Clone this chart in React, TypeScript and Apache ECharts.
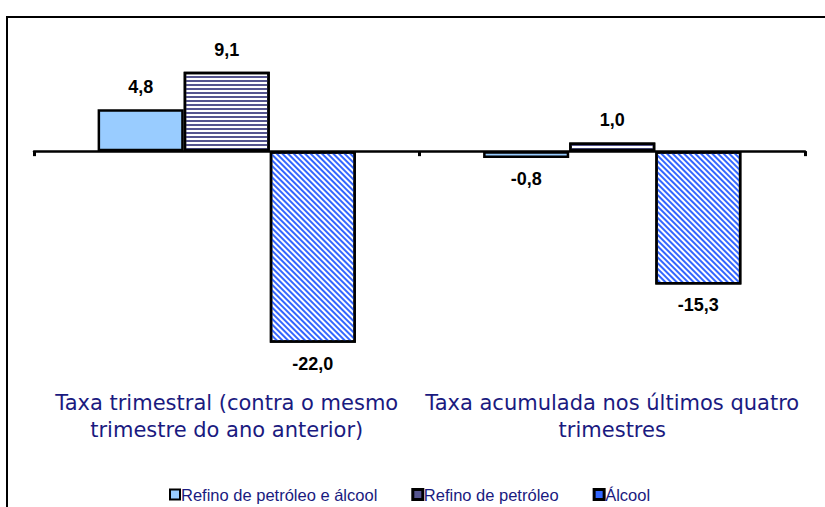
import React, { useEffect, useRef } from "react";
import * as echarts from "echarts";

const categories = [
  "Taxa trimestral (contra o mesmo\ntrimestre do ano anterior)",
  "Taxa acumulada nos últimos quatro\ntrimestres",
];
const seriesNames = ["Refino de petróleo e álcool", "Refino de petróleo", "Álcool"];
const refinoAlcool = [4.8, -0.8];
const refinoPetroleo = [9.1, 1.0];
const alcool = [-22.0, -15.3];

const fmt = (v: number) => v.toFixed(1).replace(".", ",");

export default function App() {
  const ref = useRef<HTMLDivElement>(null);
  useEffect(() => {
    if (!ref.current) return;
    const chart = echarts.init(ref.current, null, { renderer: "svg" });
    const mkData = (arr: number[]) =>
      arr.map((v) => ({
        value: v,
        label: { position: v < 0 ? "bottom" : "top", distance: v < 0 ? 12 : 13 },
      }));
    const label = {
      show: true,
      formatter: (p: any) => fmt(p.value),
      fontFamily: "Liberation Sans, Arial, sans-serif",
      fontWeight: "bold",
      fontSize: 18,
      color: "#000",
    };
    const legendText = "#1a1a80";
    chart.setOption({
      animation: false,
      backgroundColor: "#fff",
      graphic: [
        {
          type: "rect",
          shape: { x: 7, y: 17, width: 900, height: 600 },
          style: { fill: "none", stroke: "#000", lineWidth: 2 },
          silent: true,
        },
      ],
      grid: { left: 34, right: 20, top: 64, height: 305 },
      legend: {
        top: 481,
        left: 164,
        itemWidth: 10,
        itemHeight: 10,
        itemGap: 34,
        icon: "rect",
        textStyle: {
          color: legendText,
          fontFamily: "Liberation Sans, Arial, sans-serif",
          fontSize: 16.5,
          padding: [0, 0, 0, -4],
        },
        data: [
          { name: seriesNames[0], itemStyle: { color: "#99ccff", borderColor: "#000", borderWidth: 2, decal: "none" } },
          { name: seriesNames[1], itemStyle: { color: "#55558f", borderColor: "#000", borderWidth: 3, decal: "none" } },
          { name: seriesNames[2], itemStyle: { color: "#3366ff", borderColor: "#000", borderWidth: 3, decal: "none" } },
        ],
      },
      xAxis: [
        {
          type: "category",
          data: categories,
          axisLine: { show: true, onZero: true, lineStyle: { color: "#000", width: 2.5 } },
          axisTick: { show: true, length: 5, lineStyle: { color: "#000", width: 3 } },
          axisLabel: { show: false },
        },
        {
          type: "category",
          data: categories,
          position: "bottom",
          axisLine: { show: false, onZero: false },
          axisTick: { show: false },
          axisLabel: {
            show: true,
            margin: 20,
            color: legendText,
            fontFamily: "DejaVu Sans, sans-serif",
            fontSize: 21,
            lineHeight: 27,
            interval: 0,
          },
        },
      ],
      yAxis: {
        type: "value",
        min: -25,
        max: 10,
        show: false,
        splitLine: { show: false },
      },
      series: [
        {
          name: seriesNames[0],
          type: "bar",
          barGap: "0%",
          barCategoryGap: "33%",
          data: mkData(refinoAlcool),
          itemStyle: { color: "#99ccff", borderColor: "#000", borderWidth: 2.5 },
          label,
        },
        {
          name: seriesNames[1],
          type: "bar",
          barGap: "0%",
          barCategoryGap: "33%",
          data: mkData(refinoPetroleo),
          itemStyle: {
            color: "#ffffff",
            borderColor: "#000",
            borderWidth: 2.5,
            decal: {
              symbol: "rect",
              symbolSize: 1,
              color: "#55558f",
              dashArrayX: [1, 0],
              dashArrayY: [1.5, 1.5],
              rotation: 0,
            },
          },
          label,
        },
        {
          name: seriesNames[2],
          type: "bar",
          barGap: "0%",
          barCategoryGap: "33%",
          data: mkData(alcool),
          itemStyle: {
            color: "#ffffff",
            borderColor: "#000",
            borderWidth: 2.5,
            decal: {
              symbol: "rect",
              symbolSize: 1,
              color: "#3366ff",
              dashArrayX: [1, 0],
              dashArrayY: [2, 2],
              rotation: Math.PI / 4,
            },
          },
          label,
        },
      ],
    });
    return () => chart.dispose();
  }, []);
  return (
    <div
      ref={ref}
      style={{ position: "absolute", left: 0, top: 0, width: 825, height: 507 }}
    />
  );
}
